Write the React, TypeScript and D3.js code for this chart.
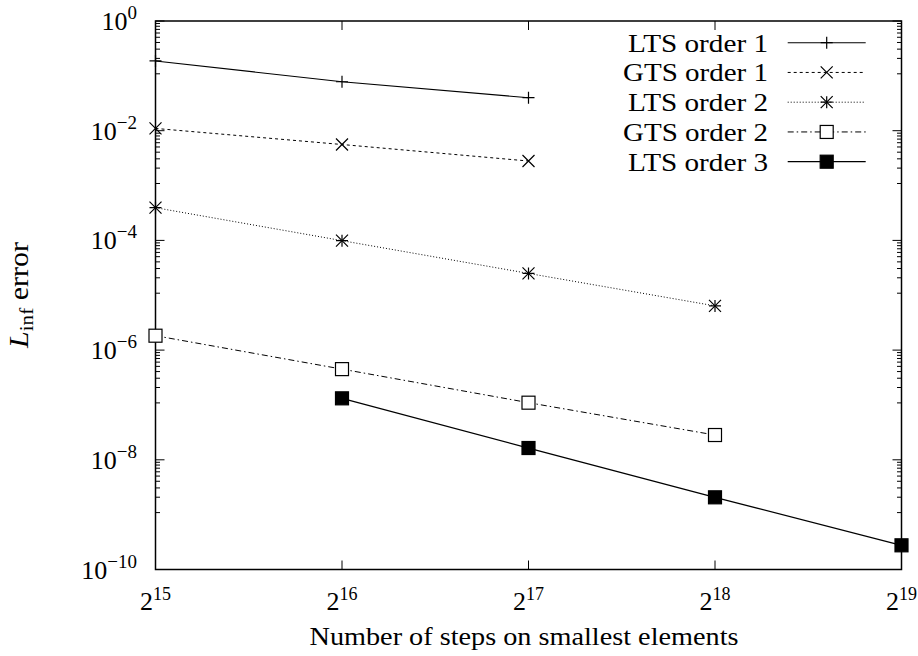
import React, { useEffect, useRef } from "react";
import * as d3 from "d3";

// x: exponent of 2 (number of steps), y: L_inf error
const xTickExps = [15, 16, 17, 18, 19];
const yTickExps = [0, -2, -4, -6, -8, -10];

const lts1Exps = [15, 16, 17];
const lts1Err = [0.187, 0.078, 0.04];
const gts1Exps = [15, 16, 17];
const gts1Err = [0.011, 0.0056, 0.0028];
const lts2Exps = [15, 16, 17, 18];
const lts2Err = [3.95e-4, 9.9e-5, 2.5e-5, 6.4e-6];
const gts2Exps = [15, 16, 17, 18];
const gts2Err = [1.83e-6, 4.5e-7, 1.1e-7, 2.83e-8];
const lts3Exps = [16, 17, 18, 19];
const lts3Err = [1.32e-7, 1.64e-8, 2.07e-9, 2.76e-10];

const seriesLabels = ["LTS order 1", "GTS order 1", "LTS order 2", "GTS order 2", "LTS order 3"];

const FONT = "'Liberation Serif', 'Times New Roman', serif";

const App = () => {
  const svgRef = useRef<SVGSVGElement>(null);

  useEffect(() => {
    const svg = d3.select(svgRef.current);
    svg.selectAll("*").remove();

    const width = 918;
    const height = 656;
    const left = 155.5, right = 901.5, top = 21, bottom = 569.5;

    svg.attr("width", width).attr("height", height);

    const x = d3.scaleLog().base(2).domain([2 ** 15, 2 ** 19]).range([left, right]);
    const y = d3.scaleLog().domain([1e-10, 1]).range([bottom, top]);

    const series = [
      { exps: lts1Exps, err: lts1Err, dash: null, marker: "plus", lw: 1.1 },
      { exps: gts1Exps, err: gts1Err, dash: "3,3", marker: "cross", lw: 1 },
      { exps: lts2Exps, err: lts2Err, dash: "1,2", marker: "star", lw: 1 },
      { exps: gts2Exps, err: gts2Err, dash: "6,3,1.5,3", marker: "box", lw: 1 },
      { exps: lts3Exps, err: lts3Err, dash: null, marker: "fbox", lw: 1.3 },
    ];

    // ticks (gnuplot style, mirrored)
    const ticks = svg.append("g").attr("stroke", "#000").attr("stroke-width", 1);
    yTickExps.forEach(e => {
      const yy = y(10 ** e);
      ticks.append("line").attr("x1", left).attr("x2", left + 9).attr("y1", yy).attr("y2", yy);
      ticks.append("line").attr("x1", right).attr("x2", right - 9).attr("y1", yy).attr("y2", yy);
      if (e > -10) {
        const hi = 10 ** e, lo = 10 ** (e - 2);
        d3.range(1, 10).forEach(k => {
          const ym = y(lo + (k * (hi - lo)) / 10);
          ticks.append("line").attr("x1", left).attr("x2", left + 4.5).attr("y1", ym).attr("y2", ym);
          ticks.append("line").attr("x1", right).attr("x2", right - 4.5).attr("y1", ym).attr("y2", ym);
        });
      }
    });
    xTickExps.forEach(e => {
      const xx = x(2 ** e);
      ticks.append("line").attr("x1", xx).attr("x2", xx).attr("y1", bottom).attr("y2", bottom - 9);
      ticks.append("line").attr("x1", xx).attr("x2", xx).attr("y1", top).attr("y2", top + 9);
    });

    // border
    svg.append("rect")
      .attr("x", left).attr("y", top)
      .attr("width", right - left).attr("height", bottom - top)
      .attr("fill", "none").attr("stroke", "#000").attr("stroke-width", 1.5);

    // tick labels
    yTickExps.forEach(e => {
      const t = svg.append("text")
        .attr("x", 137).attr("y", y(10 ** e) + 9)
        .attr("text-anchor", "end")
        .attr("font-family", FONT).attr("font-size", 26);
      t.append("tspan").text("10");
      t.append("tspan").attr("dy", -11).attr("font-size", 19)
        .text(e === 0 ? "0" : "\u2212" + Math.abs(e));
    });
    xTickExps.forEach(e => {
      const t = svg.append("text")
        .attr("x", x(2 ** e)).attr("y", 610)
        .attr("text-anchor", "middle")
        .attr("font-family", FONT).attr("font-size", 26);
      t.append("tspan").text("2");
      t.append("tspan").attr("dy", -10).attr("font-size", 18).text(String(e));
    });

    // axis titles
    svg.append("text")
      .attr("x", 524).attr("y", 645)
      .attr("text-anchor", "middle")
      .attr("font-family", FONT).attr("font-size", 26)
      .attr("textLength", 429).attr("lengthAdjust", "spacingAndGlyphs")
      .text("Number of steps on smallest elements");

    const yl = svg.append("text")
      .attr("transform", "translate(28,295) rotate(-90)")
      .attr("text-anchor", "middle")
      .attr("font-family", FONT).attr("font-size", 27)
      .attr("textLength", 106).attr("lengthAdjust", "spacingAndGlyphs");
    yl.append("tspan").attr("font-style", "italic").text("L");
    yl.append("tspan").attr("font-size", 19).attr("dy", 5).text("inf");
    yl.append("tspan").attr("dy", -5).text(" error");

    // marker drawing
    const drawMarker = (g: any, type: string, cx: number, cy: number) => {
      const s = 6;
      if (type === "plus" || type === "star") {
        g.append("path").attr("d", `M${cx - s},${cy}h${2 * s}M${cx},${cy - s}v${2 * s}`)
          .attr("stroke", "#000").attr("stroke-width", 1.2).attr("fill", "none");
      }
      if (type === "cross" || type === "star") {
        g.append("path").attr("d", `M${cx - s},${cy - s}L${cx + s},${cy + s}M${cx - s},${cy + s}L${cx + s},${cy - s}`)
          .attr("stroke", "#000").attr("stroke-width", 1.2).attr("fill", "none");
      }
      if (type === "box" || type === "fbox") {
        g.append("rect").attr("x", cx - 6.5).attr("y", cy - 6.5).attr("width", 13).attr("height", 13)
          .attr("fill", type === "fbox" ? "#000" : "#fff")
          .attr("stroke", "#000").attr("stroke-width", 1.2);
      }
    };

    const line = d3.line<[number, number]>().x(d => x(2 ** d[0])).y(d => y(d[1]));

    series.forEach(s => {
      const pts: [number, number][] = s.exps.map((e, i) => [e, s.err[i]]);
      const g = svg.append("g");
      g.append("path")
        .attr("d", line(pts))
        .attr("fill", "none")
        .attr("stroke", "#000")
        .attr("stroke-width", s.lw)
        .attr("stroke-dasharray", s.dash);
      pts.forEach(p => drawMarker(g, s.marker, x(2 ** p[0]), y(p[1])));
    });

    // legend
    const lg = svg.append("g");
    seriesLabels.forEach((label, i) => {
      const s = series[i];
      const cy = 42.7 + i * 29.75;
      lg.append("text")
        .attr("x", 768).attr("y", cy + 9)
        .attr("text-anchor", "end")
        .attr("font-family", FONT).attr("font-size", 26)
        .attr("textLength", label.startsWith("G") ? 145 : 140)
        .attr("lengthAdjust", "spacingAndGlyphs")
        .text(label);
      lg.append("line")
        .attr("x1", 787.7).attr("x2", 865.7).attr("y1", cy).attr("y2", cy)
        .attr("stroke", "#000").attr("stroke-width", s.lw)
        .attr("stroke-dasharray", s.dash);
      drawMarker(lg, s.marker, 826.7, cy);
    });
  }, []);

  return (
    <svg ref={svgRef} style={{ position: "absolute", left: 0, top: 0, background: "#fff" }}></svg>
  );
};

export default App;
